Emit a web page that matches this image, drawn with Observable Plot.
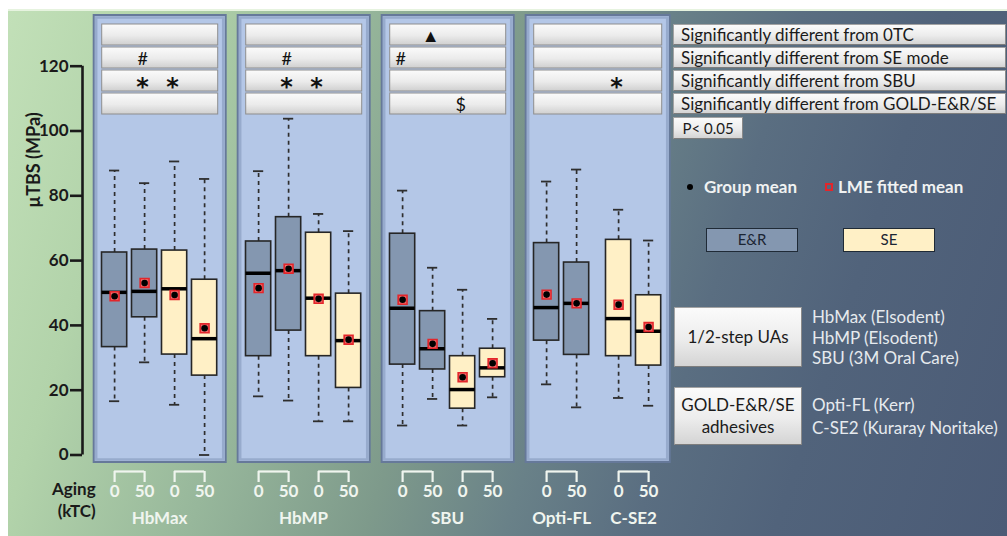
<!DOCTYPE html>
<html><head><meta charset="utf-8">
<script src="https://cdn.jsdelivr.net/npm/d3@7"></script>
<script src="https://cdn.jsdelivr.net/npm/@observablehq/plot@0.6"></script>
<style>
body{margin:0;background:#fff;}
#wrap{position:relative;width:1007px;height:536px;overflow:hidden;font-family:Lato,"Open Sans",sans-serif;}
#bg{position:absolute;left:8px;top:9px;right:0;bottom:0;
 background:linear-gradient(108deg,#c2e0b8 0%,#b2d3aa 14%,#97b79b 30%,#7e9a8b 45%,#698188 57%,#5a6e81 68%,#51637b 80%,#4b5b76 100%);
 box-shadow: inset 0 2px 0 #e6f3df;}
#main,#sig{position:absolute;left:0;top:0;}
.abs{position:absolute;white-space:nowrap;}
.btn{background:linear-gradient(#fbfbfb,#ececec 55%,#d4d4d4);border:1px solid #a3a3a3;border-right-color:#8a8a8a;border-bottom-color:#7d7d7d;box-sizing:border-box;color:#1b1b1b;}
</style></head><body>
<div id="wrap"><div id="bg"></div><div id="main"></div><div id="sig"></div><div id="legend"></div></div>
<script>
// ---------------- data ----------------
const adhesive = ["HbMax","HbMax","HbMax","HbMax","HbMP","HbMP","HbMP","HbMP","SBU","SBU","SBU","SBU","Opti-FL","Opti-FL","C-SE2","C-SE2"];
const mode     = ["E&R","E&R","SE","SE","E&R","E&R","SE","SE","E&R","E&R","SE","SE","E&R","E&R","SE","SE"];
const agingKTC = [0,50,0,50,0,50,0,50,0,50,0,50,0,50,0,50];
const whiskerLow  = [16.6,28.6,15.5,0.0, 18.1,16.8,10.4,10.4, 9.1,17.3,9.1,17.8, 21.8,14.7,17.6,15.2];
const q1          = [33.3,42.5,31.0,24.5, 30.5,38.4,30.5,20.7, 27.9,26.4,14.3,24.0, 35.3,30.9,30.5,27.6];
const median      = [50.2,50.5,51.3,35.9, 56.1,56.9,48.4,35.3, 45.3,32.8,20.2,26.9, 45.5,46.8,42.1,38.2];
const q3          = [62.5,63.4,63.1,54.1, 65.9,73.4,68.6,49.8, 68.3,44.4,30.5,32.8, 65.4,59.4,66.4,49.3];
const whiskerHigh = [87.8,83.9,90.6,85.2, 87.6,103.8,74.4,69.1, 81.6,57.8,51.0,42.0, 84.4,88.1,75.7,66.2];
const groupMean   = [49.0,53.1,49.4,39.1, 51.5,57.5,48.2,35.6, 47.9,34.3,24.0,28.3, 49.5,46.8,46.4,39.5];
const lmeMean     = [49.0,53.1,49.4,39.1, 51.5,57.5,48.2,35.6, 47.9,34.3,24.0,28.3, 49.5,46.8,46.4,39.5];

const adhesives = ["HbMax","HbMP","SBU","Opti-FL","C-SE2"];
const adhesivePanel = ["HbMax","HbMP","SBU","GOLD","GOLD"];
const panels = ["HbMax","HbMP","SBU","GOLD"];
const modes = ["E&R","SE"];
const yTicks = [0,20,40,60,80,100,120];
const yLabel = "µTBS (MPa)";

const comparisons = ["Significantly different from 0TC","Significantly different from SE mode","Significantly different from SBU","Significantly different from GOLD-E&R/SE"];
const sigComparison = [0,1,1,1,2,2,2,2,2,3];
const sigBox        = [9,1,5,8,1,2,5,6,14,10];
const sigSymbol     = ["▲","#","#","#","*","*","*","*","*","$"];
const pValue = "P< 0.05";
const meanLegend = ["Group mean","LME fitted mean"];
const groups = [
  {label:["1/2-step UAs"], members:["HbMax (Elsodent)","HbMP (Elsodent)","SBU (3M Oral Care)"]},
  {label:["GOLD-E&R/SE","adhesives"], members:["Opti-FL (Kerr)","C-SE2 (Kuraray Noritake)"]}
];

// ---------------- layout ----------------
const W = 1007, H = 536, ML = 82, PX = 30;
const START = 1.07, PANEL_GAP = 1.8, ADH_GAP = 1.4, PAD_L = 0.68, PAD_R = 0.72;
const pos = [];
adhesive.forEach((a,i)=>{
  if(i===0){pos.push(START);return;}
  const pp = adhesivePanel[adhesives.indexOf(adhesive[i-1])], pc = adhesivePanel[adhesives.indexOf(a)];
  pos.push(pos[i-1] + (pp!==pc ? PANEL_GAP : (adhesive[i-1]!==a ? ADH_GAP : 1)));
});
const rows = adhesive.map((a,i)=>({adhesive:a, mode:mode[i], aging:agingKTC[i], x:pos[i],
  low:whiskerLow[i], q1:q1[i], med:median[i], q3:q3[i], high:whiskerHigh[i], mean:groupMean[i], lme:lmeMean[i],
  panel: adhesivePanel[adhesives.indexOf(a)]}));
const panelRects = panels.map(p=>{const r=rows.filter(d=>d.panel===p);return {panel:p,x1:r[0].x-PAD_L,x2:r[r.length-1].x+PAD_R};});
const xMax = panelRects[panelRects.length-1].x2;
const MR = W - ML - xMax*PX;
const MT = 15, MB = 74;
const pxPerUnit = 3.24;
const yLo = -(462-454.5)/pxPerUnit, yHi = (454.5-15)/pxPerUnit;
const BW = 0.42, CAP = 0.17;
const pairs = [];
for(let i=0;i<rows.length;i+=2) pairs.push({x0:rows[i].x,x1:rows[i+1].x});
const legs = rows.map(d=>({x:d.x}));
const adhLabels = adhesives.map(a=>{const r=rows.filter(d=>d.adhesive===a);return {name:a,x:d3.mean(r,d=>d.x)};});
const legLen = 11/pxPerUnit;
const light = "#f0f5ef";

const main = Plot.plot({
  width: W, height: H, marginLeft: ML, marginRight: MR, marginTop: MT, marginBottom: MB,
  style:{background:"transparent", fontFamily:"Lato,'Open Sans',sans-serif", color:"#1a1a1a", overflow:"visible"},
  x:{domain:[0,xMax], axis:null},
  y:{domain:[yLo,yHi], axis:null},
  color:{domain:modes, range:["#8497b0","#fff0c6"]},
  marks:[
    Plot.rect(panelRects,{x1:"x1",x2:"x2",fill:"#b4c7e7",stroke:"#66799a",strokeWidth:2}),
    Plot.rect(panelRects,{x1:"x1",x2:"x2",inset:2.5,fill:"none",stroke:"#97abcd",strokeWidth:2.5}),
    Plot.ruleX(rows,{x:"x",y1:"q3",y2:"high",stroke:"#2e2e2e",strokeWidth:1.7,strokeDasharray:"4,4"}),
    Plot.ruleX(rows,{x:"x",y1:"q1",y2:"low",stroke:"#2e2e2e",strokeWidth:1.7,strokeDasharray:"4,4"}),
    Plot.ruleY(rows,{y:"high",x1:d=>d.x-CAP,x2:d=>d.x+CAP,stroke:"#2e2e2e",strokeWidth:1.8}),
    Plot.ruleY(rows,{y:"low",x1:d=>d.x-CAP,x2:d=>d.x+CAP,stroke:"#2e2e2e",strokeWidth:1.8}),
    Plot.rect(rows,{x1:d=>d.x-BW,x2:d=>d.x+BW,y1:"q1",y2:"q3",fill:"mode",stroke:"#262626",strokeWidth:1.6}),
    Plot.ruleY(rows,{y:"med",x1:d=>d.x-BW,x2:d=>d.x+BW,stroke:"#000",strokeWidth:3.5}),
    Plot.dot(rows,{x:"x",y:"lme",symbol:"square",r:5,fill:"#ef6d6d",stroke:"#e3262b",strokeWidth:1.6}),
    Plot.dot(rows,{x:"x",y:"mean",r:3.3,fill:"#000"}),
    Plot.axisY({ticks:yTicks,tickSize:12,tickPadding:2,strokeWidth:2.6,fontSize:17,fontWeight:"bold",label:null}),
    Plot.ruleX([0],{y1:yTicks[0],y2:yTicks[yTicks.length-1],stroke:"#1a1a1a",strokeWidth:2.6}),
    Plot.ruleY(pairs,{y:yLo,x1:"x0",x2:"x1",dy:9,stroke:light,strokeWidth:2.2}),
    Plot.ruleX(legs,{x:"x",y1:yLo,y2:yLo-legLen,dy:9,stroke:light,strokeWidth:2.2}),
    Plot.text(rows,{x:"x",text:d=>String(d.aging),frameAnchor:"bottom",dy:34,fill:light,fontSize:17,fontWeight:"bold"}),
    Plot.text(adhLabels,{x:"x",text:"name",frameAnchor:"bottom",dy:61,fill:light,fontSize:17,fontWeight:"bold"})
  ]
});
document.getElementById("main").appendChild(main);

// significance grid
const sigButtons = panelRects.flatMap(p=>comparisons.map(c=>({...p,comparison:c})));
const sigMarks = sigBox.map((b,i)=>({x:rows[b].x,comparison:comparisons[sigComparison[i]],symbol:sigSymbol[i]}));
const isStar = d => d.symbol === "*";
const SH = 120;
const sig = Plot.plot({
  width: W, height: SH, marginLeft: ML, marginRight: MR, marginTop: 23, marginBottom: SH-114,
  style:{background:"transparent", fontFamily:"Lato,'Open Sans',sans-serif", overflow:"visible"},
  x:{domain:[0,xMax], axis:null},
  y:{domain:comparisons, axis:null, paddingInner:0.1, paddingOuter:0},
  marks:[
    Plot.barX(sigButtons,{x1:"x1",x2:"x2",y:"comparison",insetLeft:8,insetRight:8,fill:"url(#btnGrad)",stroke:"#8e8e8e",strokeWidth:1}),
    Plot.text(sigMarks.filter(d=>!isStar(d)),{x:"x",y:"comparison",text:"symbol",dx:-2,dy:1,fontSize:18,fill:"#111"}),
    Plot.text(sigMarks.filter(isStar),{x:"x",y:"comparison",text:"symbol",dx:-2,dy:6,fontSize:24,fontWeight:"bold",fontFamily:"'DejaVu Sans',sans-serif",fill:"#111"})
  ]
});
const defs = d3.select(sig).insert("defs",":first-child");
const grad = defs.append("linearGradient").attr("id","btnGrad").attr("x1",0).attr("y1",0).attr("x2",0).attr("y2",1);
[["0%","#fbfbfb"],["55%","#ebebeb"],["100%","#cfcfcf"]].forEach(([o,c])=>grad.append("stop").attr("offset",o).attr("stop-color",c));
document.getElementById("sig").appendChild(sig);

// ---------------- legend & labels (HTML) ----------------
const L = d3.select("#legend");
const ys = sig.scale("y");
comparisons.forEach(c=>{
  L.append("div").attr("class","abs btn").style("left","673px").style("width","333px")
   .style("top",ys.apply(c)+"px").style("height",ys.bandwidth+"px").style("line-height",(ys.bandwidth-1)+"px")
   .style("padding-left","7px").style("font-size","17px").text(c);
});
L.append("div").attr("class","abs btn").style("left","673px").style("top","117px").style("width","70px").style("height","22px")
 .style("line-height","20px").style("text-align","center").style("font-size","15px").text(pValue);
// mean legend
L.append("div").attr("class","abs").style("left","687px").style("top","184px").style("width","6px").style("height","6px")
 .style("border-radius","50%").style("background","#000");
L.append("div").attr("class","abs").style("left","704px").style("top","176px").style("font-size","17px").style("font-weight","bold")
 .style("color","#f0f2f2").text(meanLegend[0]);
L.append("div").attr("class","abs").style("left","825px").style("top","183px").style("width","8px").style("height","8px")
 .style("box-sizing","border-box").style("border","2px solid #e3262b");
L.append("div").attr("class","abs").style("left","838px").style("top","176px").style("font-size","17px").style("font-weight","bold")
 .style("color","#f0f2f2").text(meanLegend[1]);
// color legend
const cs = main.scale("color");
modes.forEach((m,i)=>{
  L.append("div").attr("class","abs").style("left",(706+i*137)+"px").style("top","228px").style("width","92px").style("height","24px")
   .style("box-sizing","border-box").style("border","1.5px solid #1f2a36").style("background",cs.apply(m))
   .style("text-align","center").style("line-height","21px").style("font-size","15px").style("color","#1b2533").text(m);
});
// group buttons
const gTop=[307,387], gH=[60,58], lTop=[307,393], lLH=[20.5,23];
groups.forEach((g,i)=>{
  const b = L.append("div").attr("class","abs btn").style("left","674px").style("top",gTop[i]+"px").style("width","128px")
   .style("height",gH[i]+"px").style("display","flex").style("flex-direction","column").style("justify-content","center")
   .style("align-items","center").style("font-size","17px").style("line-height","22px");
  g.label.forEach(t=>b.append("div").text(t));
  const m = L.append("div").attr("class","abs").style("left","812px").style("top",lTop[i]+"px").style("font-size","17px")
   .style("line-height",lLH[i]+"px").style("color","#e6eaee");
  g.members.forEach(t=>m.append("div").text(t));
});
// y label and aging label
L.append("div").attr("class","abs").style("left","33px").style("top","160px").style("transform","translate(-50%,-50%) rotate(-90deg)")
 .style("font-size","18px").style("font-weight","bold").style("color","#1a1a1a").text(yLabel);
L.append("div").attr("class","abs").style("left","52px").style("top","478px").style("font-size","17px").style("font-weight","bold")
 .style("color","#1a1a1a").style("line-height","22px").style("text-align","right").html("Aging<br>(kTC)");
</script>
</body></html>
